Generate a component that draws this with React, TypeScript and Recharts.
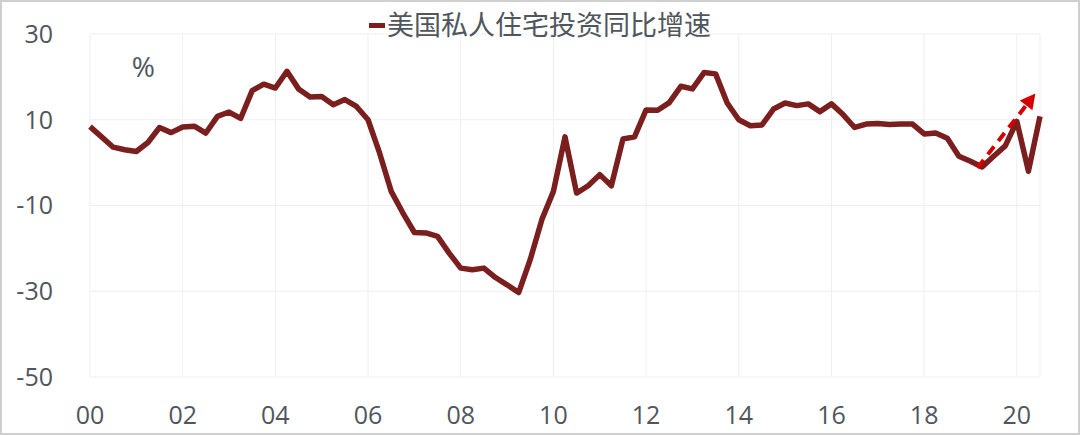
import React from 'react';
import { LineChart, Line, XAxis, YAxis, CartesianGrid, Legend, ReferenceLine, ReferenceDot } from 'recharts';

// quarterly, 2000Q1 .. 2020Q3
const quarterIdx = Array.from({ length: 83 }, (_, i) => i);
const growth = [
    8.4, 6.0, 3.6, 3.0, 2.6, 4.7, 8.2, 7.0, 8.3, 8.5, 6.9, 10.8, 11.8, 10.3, 16.8, 18.3, 17.4,
    21.3, 17.2, 15.3, 15.4, 13.5, 14.7, 13.1, 10.0, 2.2, -6.7, -11.7, -16.3, -16.4, -17.2,
    -21.1, -24.6, -25.0, -24.6, -26.8, -28.5, -30.3, -22.6, -13.3, -6.7, 6.0, -7.1, -5.4,
    -2.8, -5.4, 5.5, 6.0, 12.3, 12.2, 14.0, 17.8, 17.2, 21.0, 20.7, 13.9, 10.0, 8.6, 8.8,
    12.5, 13.9, 13.3, 13.7, 11.9, 13.7, 11.2, 8.2, 9.0, 9.1, 8.9, 9.0, 9.0, 6.7, 6.9, 5.7,
    1.5, 0.3, -1.0, 1.5, 3.9, 9.6, -2.0, 10.8,
];
const xTicks = [0, 8, 16, 24, 32, 40, 48, 56, 64, 72, 80];
const xLabels = ['00', '02', '04', '06', '08', '10', '12', '14', '16', '18', '20'];
const yTicks = [-50, -30, -10, 10, 30];
const seriesName = '美国私人住宅投资同比增速';

// trend arrow (start / tip), in data units
const arrowFrom = { x: 76.6, y: -1.2 };
const arrowTo = { x: 81.6, y: 16.1 };

const data = quarterIdx.map((i) => ({ i, v: growth[i] }));

const FONT = '"Open Sans", "Noto Sans CJK SC", sans-serif';
const TEXT = '#50565c';
const LINE = '#7b1e1e';

const ArrowShape = (props: any) => {
    const { x1, y1, x2, y2 } = props;
    const ang = Math.atan2(y2 - y1, x2 - x1);
    const head = 15;
    const bx = x2 - head * Math.cos(ang);
    const by = y2 - head * Math.sin(ang);
    const px = Math.sin(ang) * 8;
    const py = -Math.cos(ang) * 8;
    return (
        <g>
            <line x1={x1} y1={y1} x2={bx} y2={by} stroke="#d40000" strokeWidth={4} strokeDasharray="10 7" />
            <polygon points={`${x2},${y2} ${bx + px},${by + py} ${bx - px},${by - py}`} fill="#d40000" />
        </g>
    );
};

const LegendBox = () => (
    <div style={{ display: 'flex', justifyContent: 'center', alignItems: 'center', height: 30, fontFamily: FONT }}>
        <span style={{ display: 'inline-block', width: 16, height: 5, background: LINE, marginRight: 2 }} />
        <span style={{ fontSize: 27, color: TEXT, lineHeight: '30px' }}>{seriesName}</span>
    </div>
);

export default function App() {
    return (
        <div style={{ position: 'absolute', left: 0, top: 0, width: 1080, height: 435, background: '#fff' }}>
            <LineChart width={1080} height={435} data={data} margin={{ top: 4, right: 40, bottom: 0, left: 0 }}>
                <CartesianGrid stroke="#efefef" />
                <XAxis
                    dataKey="i"
                    type="number"
                    domain={[0, 82]}
                    ticks={xTicks}
                    tickFormatter={(v) => xLabels[xTicks.indexOf(v)]}
                    axisLine={false}
                    tickLine={false}
                    tickSize={0}
                    tickMargin={29}
                    height={58}
                    tick={{ fontSize: 25, fill: TEXT, fontFamily: FONT }}
                />
                <YAxis
                    domain={[-50, 30]}
                    ticks={yTicks}
                    axisLine={false}
                    tickLine={false}
                    tickSize={0}
                    tickMargin={37}
                    width={90}
                    tick={{ fontSize: 25, fill: TEXT, fontFamily: FONT }}
                />
                <Legend verticalAlign="top" content={LegendBox} wrapperStyle={{ top: 10, left: 0, width: 1080 }} />
                <ReferenceDot x={4.6} y={22.4} r={0} fill="none" stroke="none"
                    label={{ value: '%', position: 'center', fontSize: 28, fill: TEXT, fontFamily: FONT }} />
                <Line type="linear" dataKey="v" name={seriesName} stroke={LINE} strokeWidth={5.5} dot={false}
                    strokeLinejoin="round" isAnimationActive={false} />
                <ReferenceLine segment={[arrowFrom, arrowTo]} shape={ArrowShape} />
            </LineChart>
            <div style={{ position: 'absolute', inset: 0, border: '2px solid #cfcfcf', pointerEvents: 'none' }} />
        </div>
    );
}
